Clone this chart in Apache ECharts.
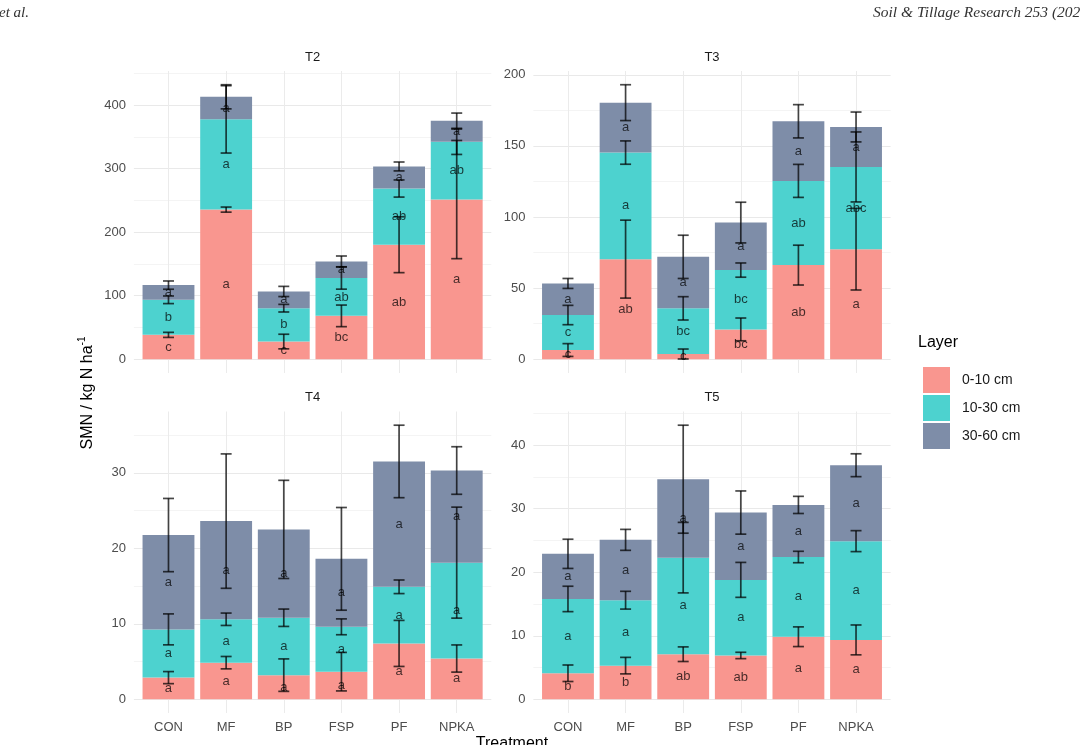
<!DOCTYPE html>
<html>
<head>
<meta charset="utf-8">
<title>SMN by layer and treatment</title>
<script src="https://cdn.jsdelivr.net/npm/echarts@6/dist/echarts.min.js"></script>
<style>
  html, body { margin: 0; padding: 0; background: #fff; }
  #chart { width: 1080px; height: 745px; }
</style>
</head>
<body>
<div id="chart"></div>
<script>
// categories and layers
const treatments = ['CON', 'MF', 'BP', 'FSP', 'PF', 'NPKA'];
const layers = ['0-10 cm', '10-30 cm', '30-60 cm'];

// layer values (one row per layer), error half widths and letters
const t2Values = [
  [38.4, 235.5, 27.9, 68.3, 180.3, 251.3],
  [55.2, 142.0, 52.5, 59.5, 88.4, 91.0],
  [23.1, 35.5, 26.3, 26.2, 34.7, 33.1]
];
const t2Sd = [
  [4, 4, 11.5, 17, 44, 93],
  [6, 53, 6, 17.5, 13.5, 20],
  [6.5, 19, 8, 8.5, 7, 12]
];
const t2Letters = [
  ['c', 'a', 'c', 'bc', 'ab', 'a'],
  ['b', 'a', 'b', 'ab', 'ab', 'ab'],
  ['a', 'a', 'a', 'a', 'a', 'a']
];

const t3Values = [
  [6.5, 70.4, 3.7, 21.0, 66.2, 77.4],
  [24.6, 74.9, 32.1, 41.7, 59.2, 57.8],
  [22.2, 35.1, 36.2, 33.4, 41.9, 28.1]
];
const t3Sd = [
  [4.5, 27.4, 3.5, 8, 14, 28.7],
  [6.8, 8.2, 8.2, 5, 11.6, 24.6],
  [3.5, 12.6, 15.2, 14.3, 11.7, 10.5]
];
const t3Letters = [
  ['c', 'ab', 'c', 'bc', 'ab', 'a'],
  ['c', 'a', 'bc', 'bc', 'ab', 'abc'],
  ['a', 'a', 'a', 'a', 'a', 'a']
];

const t4Values = [
  [2.87, 4.85, 3.2, 3.66, 7.4, 5.4],
  [6.39, 5.75, 7.6, 5.94, 7.5, 12.7],
  [12.49, 13.0, 11.7, 9.0, 16.6, 12.2]
];
const t4Sd = [
  [0.8, 0.82, 2.15, 2.55, 3.05, 1.8],
  [2.05, 0.82, 1.15, 1.05, 0.9, 7.35],
  [4.85, 8.9, 6.5, 6.8, 4.8, 3.15]
];
const t4Letters = [
  ['a', 'a', 'a', 'a', 'a', 'a'],
  ['a', 'a', 'a', 'a', 'a', 'a'],
  ['a', 'a', 'a', 'a', 'a', 'a']
];

const t5Values = [
  [4.1, 5.3, 7.1, 6.9, 9.85, 9.35],
  [11.7, 10.3, 15.2, 11.9, 12.55, 15.55],
  [7.1, 9.5, 12.35, 10.6, 8.2, 11.95]
];
const t5Sd = [
  [1.3, 1.3, 1.15, 0.5, 1.55, 2.35],
  [2, 1.4, 5.55, 2.75, 0.9, 1.65],
  [2.3, 1.65, 8.5, 3.4, 1.35, 1.8]
];
const t5Letters = [
  ['b', 'b', 'ab', 'ab', 'a', 'a'],
  ['a', 'a', 'a', 'a', 'a', 'a'],
  ['a', 'a', 'a', 'a', 'a', 'a']
];

const layerColors = ['#F9968F', '#4DD2CF', '#7E8DA8'];
const inkColor = 'rgba(0,0,0,0.72)';
const fontFamily = '"Liberation Sans", Arial, sans-serif';

const panels = [
  { title: 'T2', values: t2Values, sd: t2Sd, letters: t2Letters, major: 100, col: 0, row: 0 },
  { title: 'T3', values: t3Values, sd: t3Sd, letters: t3Letters, major: 50, col: 1, row: 0 },
  { title: 'T4', values: t4Values, sd: t4Sd, letters: t4Letters, major: 10, col: 0, row: 1 },
  { title: 'T5', values: t5Values, sd: t5Sd, letters: t5Letters, major: 10, col: 1, row: 1 }
];

// panel frames in pixels (ggplot panel incl. expansion)
const colLeft = [133.9, 533.4];
const colRight = [491.3, 890.6];
const rowTop = [71, 411.5];
const rowBottom = [373, 713];

const grids = [], xAxes = [], yAxes = [], series = [], graphics = [];

panels.forEach((p, i) => {
  const left = colLeft[p.col];
  const width = colRight[p.col] - left;
  const top = rowTop[p.row];
  const height = rowBottom[p.row] - top;
  const unit = width / 6.2;
  const zeroY = rowBottom[p.row] - height * 0.05 / 1.1;

  // cumulative tops and data range
  const tops = p.values.map((row, k) => row.map((v, j) => {
    let s = 0;
    for (let m = 0; m <= k; m++) s += p.values[m][j];
    return s;
  }));
  let dataMax = 0;
  tops.forEach((row, k) => row.forEach((t, j) => {
    dataMax = Math.max(dataMax, t + p.sd[k][j]);
  }));
  const yMax = dataMax * 1.05;

  // grid for horizontal grid lines and y labels (full panel width)
  const hIdx = grids.length;
  grids.push({ left: left, top: top, width: width, height: zeroY - top });
  xAxes.push({ type: 'value', gridIndex: hIdx, min: 0, max: 1, show: false });
  yAxes.push({
    type: 'value', gridIndex: hIdx, min: 0, max: yMax,
    interval: p.major / 2,
    axisLine: { show: false }, axisTick: { show: false },
    axisLabel: {
      margin: 8, color: '#4d4d4d', fontSize: 13, fontFamily: fontFamily,
      formatter: v => (Math.abs(v % p.major) < 1e-6 ? String(v) : '')
    },
    splitLine: {
      show: true, showMaxLine: false,
      lineStyle: { color: ['#e9e9e9', '#f4f4f4'], width: 1 }
    }
  });

  // grid for vertical grid lines and category labels (full panel height)
  const vIdx = grids.length;
  grids.push({ left: left + 0.6 * unit, top: top, width: 5 * unit, height: height });
  xAxes.push({
    type: 'value', gridIndex: vIdx, min: 1, max: 6, interval: 1,
    axisLine: { show: false }, axisTick: { show: false },
    axisLabel: {
      show: p.row === 1, margin: 8, color: '#4d4d4d', fontSize: 13,
      fontFamily: fontFamily,
      formatter: v => treatments[Math.round(v) - 1] || ''
    },
    splitLine: { show: true, lineStyle: { color: '#ebebeb', width: 1 } }
  });
  yAxes.push({ type: 'value', gridIndex: vIdx, min: 0, max: 1, show: false });

  // data grid: category bands from 0.5 to 6.5
  const mIdx = grids.length;
  grids.push({ left: left + 0.1 * unit, top: top, width: 6 * unit, height: zeroY - top });
  xAxes.push({ type: 'category', gridIndex: mIdx, data: treatments, show: false });
  yAxes.push({ type: 'value', gridIndex: mIdx, min: 0, max: yMax, show: false });

  // stacked bars
  p.values.forEach((row, k) => {
    series.push({
      name: layers[k],
      type: 'bar',
      xAxisIndex: mIdx, yAxisIndex: mIdx,
      stack: 'panel' + i,
      barWidth: '90%',
      itemStyle: { color: layerColors[k] },
      label: {
        show: true, position: 'inside', color: inkColor, fontSize: 13,
        fontFamily: fontFamily,
        formatter: params => p.letters[k][params.dataIndex]
      },
      emphasis: { disabled: true },
      data: row,
      z: 2
    });
  });

  // error bars at cumulative tops
  const errData = [];
  tops.forEach((row, k) => row.forEach((t, j) => {
    errData.push([j, t - p.sd[k][j], t + p.sd[k][j]]);
  }));
  series.push({
    type: 'custom',
    xAxisIndex: mIdx, yAxisIndex: mIdx,
    encode: { x: 0, y: [1, 2] },
    z: 5,
    silent: true,
    clip: false,
    renderItem: (params, api) => {
      const x = api.value(0);
      const lo = api.coord([x, api.value(1)]);
      const hi = api.coord([x, api.value(2)]);
      const cap = 5.5;
      const style = { stroke: inkColor, lineWidth: 1.7 };
      return {
        type: 'group',
        children: [
          { type: 'line', shape: { x1: lo[0], y1: lo[1], x2: hi[0], y2: hi[1] }, style: style },
          { type: 'line', shape: { x1: lo[0] - cap, y1: lo[1], x2: lo[0] + cap, y2: lo[1] }, style: style },
          { type: 'line', shape: { x1: hi[0] - cap, y1: hi[1], x2: hi[0] + cap, y2: hi[1] }, style: style }
        ]
      };
    },
    data: errData
  });

  // facet title
  graphics.push({
    type: 'text', x: left + width / 2, y: top - 14,
    style: {
      text: p.title, textAlign: 'center', textVerticalAlign: 'middle',
      fill: '#1a1a1a', fontSize: 13, fontFamily: fontFamily
    }
  });
});

// axis titles, legend title, page header
graphics.push(
  {
    type: 'text', x: 88, y: 393, rotation: Math.PI / 2,
    style: {
      text: '{a|SMN / kg N ha}{b|-1}',
      textAlign: 'center', textVerticalAlign: 'middle',
      rich: {
        a: { fontSize: 16, fill: '#000', fontFamily: fontFamily },
        b: { fontSize: 10, fill: '#000', fontFamily: fontFamily, padding: [0, 0, 11, 0] }
      }
    }
  },
  {
    type: 'text', x: 512, y: 736,
    style: {
      text: 'Treatment', textAlign: 'center', textVerticalAlign: 'top',
      fill: '#000', fontSize: 16, fontFamily: fontFamily
    }
  },
  {
    type: 'text', x: 918, y: 343,
    style: {
      text: 'Layer', textAlign: 'left', textVerticalAlign: 'middle',
      fill: '#000', fontSize: 16, fontFamily: fontFamily
    }
  },
  {
    type: 'text', x: -1, y: 13,
    style: {
      text: 'et al.', textVerticalAlign: 'middle', fill: '#333',
      fontSize: 15, fontStyle: 'italic', fontFamily: '"Liberation Serif", serif'
    }
  },
  {
    type: 'text', x: 873, y: 13,
    style: {
      text: 'Soil & Tillage Research 253 (2025)', textVerticalAlign: 'middle',
      fill: '#333', fontSize: 15.5, fontStyle: 'italic', fontFamily: '"Liberation Serif", serif'
    }
  }
);

const myChart = echarts.init(document.getElementById('chart'), null, { renderer: 'canvas' });

const option = {
  backgroundColor: '#ffffff',
  animation: false,
  textStyle: { fontFamily: fontFamily },
  legend: {
    data: layers,
    orient: 'vertical',
    left: 918, top: 362,
    itemWidth: 27, itemHeight: 26, itemGap: 2,
    icon: 'rect',
    selectedMode: false,
    textStyle: { fontSize: 14, color: '#1a1a1a', padding: [0, 0, 0, 7] }
  },
  grid: grids,
  xAxis: xAxes,
  yAxis: yAxes,
  series: series,
  graphic: graphics
};

myChart.setOption(option);

window.addEventListener('resize', () => {
  myChart.resize();
});
</script>
</body>
</html>
